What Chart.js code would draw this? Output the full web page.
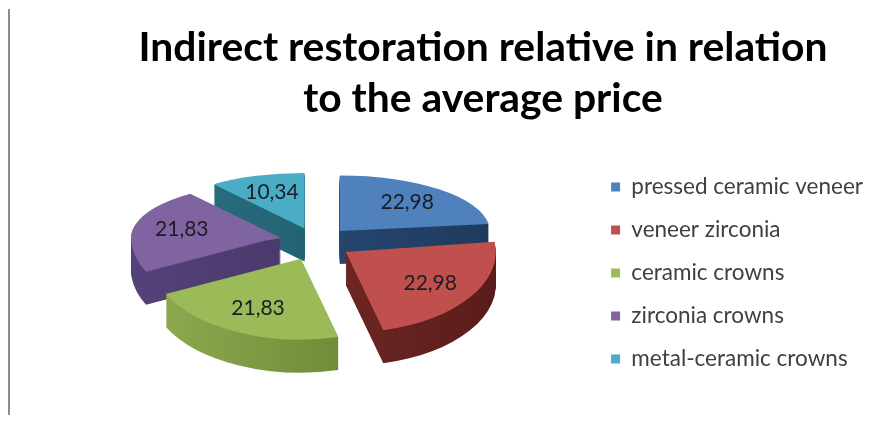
<!DOCTYPE html>
<html><head><meta charset="utf-8">
<script src="https://cdn.jsdelivr.net/npm/chart.js@4"></script>
<style>
html,body{margin:0;padding:0;background:#fff;}
#wrap{position:relative;width:885px;height:426px;}
#edge{position:absolute;left:8px;top:9px;width:2px;height:406px;background:#8c8c8c;}
canvas{position:absolute;left:0;top:0;}
</style></head><body>
<div id="wrap"><canvas id="c" width="885" height="426"></canvas><div id="edge"></div></div>
<script>
const categories = ['pressed ceramic veneer','veneer zirconia','ceramic crowns','zirconia crowns','metal-ceramic crowns'];
const values = [22.98, 22.98, 21.83, 21.83, 10.34];
const titleLines = ['Indirect restoration relative in relation','to the average price'];
const topColors = ['#4F81BD','#C0504D','#9BBB59','#8064A2','#4BACC6'];
const sideLight = ['#2c5180','#7d2f2c','#8fab50','#55427a','#2a7184'];
const sideDark  = ['#1f3a5d','#5a1c1a','#5f7a2a','#41305d','#1d5462'];

// screen placement of the tilted pie (perspective approximated by two vertical scales)
const VIEW = {cx: 316, cy: 241, r: 150, kTop: 0.37, kBottom: 0.54, depth: 33, explode: 36, labelR: 0.68};

function scaleOf(chart) {
  const a = chart.getDatasetMeta(0).data[0];
  return VIEW.r / a.outerRadius;
}

function drawTilted(chart, dy, painter) {
  const ctx = chart.ctx;
  const a = chart.getDatasetMeta(0).data[0];
  const s = scaleOf(chart);
  [[VIEW.kTop, -1], [VIEW.kBottom, 1]].forEach(([k, side]) => {
    ctx.save();
    ctx.translate(VIEW.cx, VIEW.cy + dy);
    ctx.scale(s, s * k);
    ctx.translate(-a.x, -a.y);
    ctx.beginPath();
    const big = 5000;
    if (side < 0) ctx.rect(a.x - big, a.y - big, 2 * big, big);
    else ctx.rect(a.x - big, a.y, 2 * big, big);
    ctx.clip();
    painter(ctx, a, s);
    ctx.restore();
  });
}

function toScreen(chart, lx, ly) {
  const a = chart.getDatasetMeta(0).data[0];
  const s = scaleOf(chart);
  const k = ly < a.y ? VIEW.kTop : VIEW.kBottom;
  return [VIEW.cx + s * (lx - a.x), VIEW.cy + s * k * (ly - a.y)];
}

function drawExploded(ctx, arc, s) {
  const mid = (arc.startAngle + arc.endAngle) / 2;
  const e = VIEW.explode / s;
  ctx.save();
  ctx.translate(Math.cos(mid) * e, Math.sin(mid) * e);
  arc.draw(ctx);
  ctx.restore();
}

const pie3d = {
  id: 'pie3d',
  beforeDatasetsDraw(chart) {
    const arcs = chart.getDatasetMeta(0).data;
    if (!arcs.length) return false;
    // side walls: the slice shapes stacked downwards in darker shades
    for (let d = VIEW.depth; d >= 1; d--) {
      drawTilted(chart, d, (ctx, a, s) => {
        arcs.forEach((arc, i) => {
          const o = arc.options;
          const bg = o.backgroundColor, bc = o.borderColor;
          const g = ctx.createLinearGradient(a.x - arc.outerRadius, 0, a.x + arc.outerRadius, 0);
          g.addColorStop(0, sideLight[i]);
          g.addColorStop(1, sideDark[i]);
          o.backgroundColor = g;
          o.borderColor = g;
          drawExploded(ctx, arc, s);
          o.backgroundColor = bg;
          o.borderColor = bc;
        });
      });
    }
    // top faces
    drawTilted(chart, 0, (ctx, a, s) => arcs.forEach(arc => drawExploded(ctx, arc, s)));
    // value labels
    const ctx = chart.ctx;
    const s = scaleOf(chart);
    ctx.save();
    ctx.font = '21px Lato';
    ctx.fillStyle = '#1c1c24';
    ctx.textAlign = 'center';
    ctx.textBaseline = 'middle';
    arcs.forEach((arc, i) => {
      const mid = (arc.startAngle + arc.endAngle) / 2;
      const rr = arc.outerRadius * VIEW.labelR + VIEW.explode / s;
      const [x, y] = toScreen(chart, arc.x + Math.cos(mid) * rr, arc.y + Math.sin(mid) * rr);
      ctx.fillText(values[i].toFixed(2).replace('.', ','), x, y);
    });
    ctx.restore();
    return false;
  }
};

new Chart(document.getElementById('c'), {
  type: 'pie',
  data: {
    labels: categories,
    datasets: [{
      data: values,
      backgroundColor: topColors,
      borderWidth: 0
    }]
  },
  options: {
    responsive: false,
    animation: false,
    events: [],
    radius: 100,
    layout: {padding: {left: 93, right: 12, top: 0, bottom: 0}},
    plugins: {
      title: {
        display: true,
        text: titleLines,
        color: '#000',
        font: {family: 'Lato', weight: 'bold', size: 40.8, lineHeight: 1.25},
        padding: {top: 22, bottom: 20}
      },
      legend: {
        position: 'right',
        align: 'center',
        title: {display: true, text: '', font: {size: 10, lineHeight: 1}, padding: {top: 110, bottom: 0}},
        labels: {
          boxWidth: 9,
          boxHeight: 9,
          color: '#404040',
          font: {family: 'Lato', size: 22.5},
          padding: 20.5
        }
      },
      tooltip: {enabled: false}
    }
  },
  plugins: [pie3d]
});
</script>
</body></html>
